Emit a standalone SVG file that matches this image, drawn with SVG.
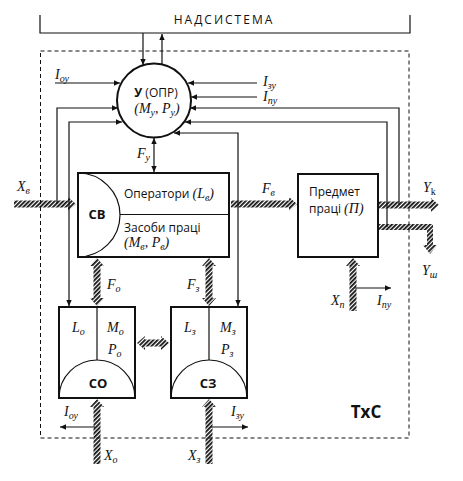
<svg xmlns="http://www.w3.org/2000/svg" width="463" height="481" viewBox="0 0 463 481">
<defs>
<style>
.ln{fill:none;stroke:#111;stroke-width:1.2}
.arr{fill:none;stroke:#111;stroke-width:1.2;marker-end:url(#a)}
.arr2{fill:none;stroke:#111;stroke-width:1.2;marker-end:url(#a);marker-start:url(#a)}
.box{fill:#fff;stroke:#111;stroke-width:2}
.hat{fill:url(#h);stroke:none}
.v{font-family:"Liberation Serif",serif;font-style:italic;font-size:14px;fill:#111}
.s{font-size:10px}
.t{font-family:"Open Sans","Liberation Sans",sans-serif;font-size:12px;fill:#111}
.b{font-family:"Open Sans","Liberation Sans",sans-serif;font-weight:bold;fill:#111}
</style>
<pattern id="h" width="3" height="3" patternUnits="userSpaceOnUse" patternTransform="rotate(45)">
<line x1="0.9" y1="0" x2="0.9" y2="3" stroke="#111" stroke-width="1.8"/>
</pattern>
<marker id="a" viewBox="0 0 10 10" refX="10" refY="5" markerWidth="8" markerHeight="6" orient="auto-start-reverse" markerUnits="userSpaceOnUse">
<path d="M0,0.5 L10,5 L0,9.5 z" fill="#111"/>
</marker>
</defs>
<rect width="463" height="481" fill="#fff"/>

<g id="nadsystema">
<path class="ln" d="M40,15 V33 H410 V15" stroke-width="1.6"/>
<text class="t" x="224" y="24" text-anchor="middle" font-size="14" letter-spacing="2">НАДСИСТЕМА</text>
</g>

<g id="boundary">
<rect x="40.5" y="51" width="368.5" height="387" fill="none" stroke="#111" stroke-width="1" stroke-dasharray="4 3"/>
<text class="b" x="366" y="418" text-anchor="middle" font-size="17">ТхС</text>
</g>

<g id="connectors">
<line class="arr" x1="143" y1="33" x2="143" y2="65"/>
<line class="arr" x1="162" y1="64" x2="162" y2="34"/>
<line class="arr" x1="55" y1="83" x2="120" y2="83"/>
<path class="arr" d="M57,204 V108 H118"/>
<path class="arr2" d="M69,306 V122 H122"/>
<line class="arr" x1="257" y1="83" x2="188" y2="83"/>
<line class="arr" x1="257" y1="97" x2="191" y2="97"/>
<path class="arr" d="M399,205 V108 H190"/>
<path class="arr" d="M387,227 V122 H185"/>
<path class="arr2" d="M238,306 V133 H174"/>
<line class="arr2" x1="154" y1="138" x2="154" y2="172"/>
<line class="arr" x1="95" y1="427" x2="60" y2="427"/>
<line class="arr" x1="211" y1="427" x2="248" y2="427"/>
<line class="arr" x1="355" y1="288" x2="391" y2="288"/>
<polygon class="hat" points="14,200.5 68,200.5 68,197 76,204 68,211 68,207.5 14,207.5"/>
<polygon class="hat" points="231,200.5 289,200.5 289,197 297,204 289,211 289,207.5 231,207.5"/>
<polygon class="hat" points="379,201.5 431,201.5 431,198 439,205 431,212 431,208.5 379,208.5"/>
<polygon class="hat" points="379,224 433,224 433,245 437,245 430,254 423,245 427,245 427,230 379,230"/>
<polygon class="hat" points="93.5,266 90,266 97,258 104,266 100.5,266 100.5,298 104,298 97,306 90,298 93.5,298"/>
<polygon class="hat" points="205.5,266 202,266 209,258 216,266 212.5,266 212.5,298 216,298 209,306 202,298 205.5,298"/>
<polygon class="hat" points="145,339.5 145,336 137,343 145,350 145,346.5 161,346.5 161,350 169,343 161,336 161,339.5"/>
<polygon class="hat" points="93.5,464 93.5,407 90,407 97,399 104,407 100.5,407 100.5,464"/>
<polygon class="hat" points="205.5,464 205.5,407 202,407 209,399 216,407 212.5,407 212.5,464"/>
<polygon class="hat" points="349.5,311 349.5,266 346,266 353,258 360,266 356.5,266 356.5,311"/>
</g>

<g id="node-u">
<circle cx="154" cy="100.5" r="37" fill="#fff" stroke="#111" stroke-width="2"/>
<text class="t" x="156" y="97" text-anchor="middle"><tspan font-weight="bold">У</tspan> (ОПР)</text>
<text class="v" x="157" y="113" text-anchor="middle">(<tspan>M</tspan><tspan class="s" dy="3">у</tspan><tspan dy="-3">, P</tspan><tspan class="s" dy="3">у</tspan><tspan dy="-3">)</tspan></text>
</g>

<g id="node-sv">
<rect class="box" x="78" y="173" width="151" height="84"/>
<path class="ln" d="M78,173 A42,42 0 0 1 78,257" stroke-width="2"/>
<line class="ln" x1="120" y1="214.5" x2="229" y2="214.5" stroke-width="2"/>
<text class="b" x="97" y="219" text-anchor="middle" font-size="13">СВ</text>
<text class="t" x="124" y="198">Оператори <tspan class="v" font-size="13">(L</tspan><tspan class="v s" dy="3">в</tspan><tspan class="v" font-size="13" dy="-3">)</tspan></text>
<text class="t" x="124" y="232">Засоби праці</text>
<text class="v" x="124" y="247" font-size="13">(M<tspan class="s" dy="3">в</tspan><tspan dy="-3">, P</tspan><tspan class="s" dy="3">в</tspan><tspan dy="-3">)</tspan></text>
</g>

<g id="node-p">
<rect class="box" x="298" y="174" width="80" height="83"/>
<text class="t" x="309" y="196">Предмет</text>
<text class="t" x="309" y="213">праці <tspan class="v" font-size="13">(П)</tspan></text>
</g>

<g id="node-so">
<rect class="box" x="59" y="307" width="76" height="91"/>
<path class="ln" d="M59,398 A38,38 0 0 1 135,398" stroke-width="2"/>
<line class="ln" x1="97" y1="307" x2="97" y2="360" stroke-width="2"/>
<text class="v" x="72" y="332">L<tspan class="s" dy="3">о</tspan></text>
<text class="v" x="107" y="332">M<tspan class="s" dy="3">о</tspan></text>
<text class="v" x="108" y="354">P<tspan class="s" dy="3">о</tspan></text>
<text class="b" x="98" y="388" text-anchor="middle" font-size="13">СО</text>
</g>

<g id="node-sz">
<rect class="box" x="171" y="307" width="76" height="91"/>
<path class="ln" d="M171,398 A38,38 0 0 1 247,398" stroke-width="2"/>
<line class="ln" x1="209" y1="307" x2="209" y2="360" stroke-width="2"/>
<text class="v" x="184" y="332">L<tspan class="s" dy="3">з</tspan></text>
<text class="v" x="220" y="332">M<tspan class="s" dy="3">з</tspan></text>
<text class="v" x="221" y="354">P<tspan class="s" dy="3">з</tspan></text>
<text class="b" x="208" y="388" text-anchor="middle" font-size="13">СЗ</text>
</g>

<g id="labels">
<text class="v" x="55" y="79">I<tspan class="s" dy="3">оу</tspan></text>
<text class="v" x="263" y="86">I<tspan class="s" dy="3">зу</tspan></text>
<text class="v" x="263" y="101">I<tspan class="s" dy="3">пу</tspan></text>
<text class="v" x="137" y="158">F<tspan class="s" dy="3">у</tspan></text>
<text class="v" x="17" y="191">X<tspan class="s" dy="3">в</tspan></text>
<text class="v" x="262" y="193">F<tspan class="s" dy="3">в</tspan></text>
<text class="v" x="423" y="192">Y<tspan class="s" dy="3" font-style="normal">k</tspan></text>
<text class="v" x="422" y="275">Y<tspan class="s" dy="3">ш</tspan></text>
<text class="v" x="107" y="289">F<tspan class="s" dy="3">о</tspan></text>
<text class="v" x="187" y="289">F<tspan class="s" dy="3">з</tspan></text>
<text class="v" x="331" y="305">X<tspan class="s" dy="3">п</tspan></text>
<text class="v" x="377" y="305">I<tspan class="s" dy="3">пу</tspan></text>
<text class="v" x="64" y="416">I<tspan class="s" dy="3">оу</tspan></text>
<text class="v" x="231" y="416">I<tspan class="s" dy="3">зу</tspan></text>
<text class="v" x="104" y="460">X<tspan class="s" dy="3">о</tspan></text>
<text class="v" x="188" y="460">X<tspan class="s" dy="3">з</tspan></text>
</g>
</svg>
